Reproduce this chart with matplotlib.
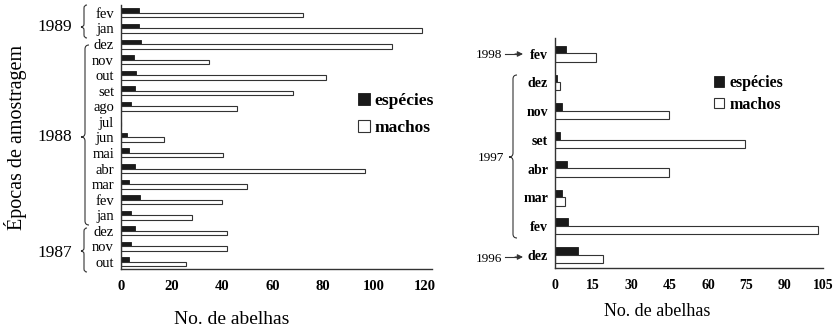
import matplotlib
matplotlib.use("Agg")
import matplotlib.pyplot as plt
from matplotlib.path import Path
from matplotlib.patches import PathPatch
import numpy as np

plt.rcParams['font.family'] = ['Liberation Serif', 'DejaVu Serif']

# left chart data (top to bottom)
left_months = ['fev', 'jan', 'dez', 'nov', 'out', 'set', 'ago', 'jul', 'jun',
               'mai', 'abr', 'mar', 'fev', 'jan', 'dez', 'nov', 'out']
left_especies = [7, 7, 8, 5, 6, 5.5, 4, 0, 2.5, 3, 5.5, 3, 7.5, 4, 5.5, 4, 3]
left_machos = [72, 119, 107, 35, 81, 68, 46, 0, 17, 40.5, 96.5, 50, 40, 28, 42, 42, 25.6]
left_ticks = [0, 20, 40, 60, 80, 100, 120]

# right chart data (top to bottom)
right_months = ['fev', 'dez', 'nov', 'set', 'abr', 'mar', 'fev', 'dez']
right_especies = [4.3, 0.8, 2.8, 2, 4.7, 2.8, 5, 9]
right_machos = [16, 2, 44.5, 74.4, 44.5, 3.9, 103, 19]
right_ticks = [0, 15, 30, 45, 60, 75, 90, 105]

W, H = 839, 332
fig = plt.figure(figsize=(W / 100, H / 100), dpi=100)


def fx(px):
    return px / W


def fy(py):
    return 1 - py / H


def brace(x, y0, y1, ym, d=4):
    verts = [(x + d, y0), (x, y0), (x, y0 + d), (x, ym - d),
             (x, ym), (x - d, ym), (x, ym), (x, ym + d),
             (x, y1 - d), (x, y1), (x + d, y1)]
    codes = [Path.MOVETO, Path.CURVE3, Path.CURVE3, Path.LINETO,
             Path.CURVE3, Path.CURVE3, Path.CURVE3, Path.CURVE3,
             Path.LINETO, Path.CURVE3, Path.CURVE3]
    verts = [(fx(a), fy(b)) for a, b in verts]
    p = PathPatch(Path(verts, codes), transform=fig.transFigure,
                  fill=False, lw=0.8, ec='#333333')
    fig.patches.append(p)


def style(ax):
    for s in ['top', 'right']:
        ax.spines[s].set_visible(False)
    for s in ['left', 'bottom']:
        ax.spines[s].set_color('#333333')
        ax.spines[s].set_linewidth(1.0)
    ax.tick_params(length=0)


# ---- left chart
axL = fig.add_axes([fx(121), fy(269), fx(432) - fx(121), fy(5) - fy(269)])
n = len(left_months)
pos = np.arange(n)
hb = 0.29
axL.barh(pos - hb / 2, left_especies, height=hb, color='#1a1a1a',
         edgecolor='#1a1a1a', lw=0.6, label='espécies')
axL.barh(pos + hb / 2, left_machos, height=hb, color='white',
         edgecolor='#333333', lw=0.8, label='machos')
axL.set_ylim(n - 1 + 0.46, -0.51)
axL.set_xlim(0, 123)
axL.set_yticks(pos)
axL.set_yticklabels(left_months, fontsize=10.5)
axL.set_xticks(left_ticks)
axL.set_xticklabels([str(t) for t in left_ticks], fontsize=10.5, fontweight='bold')
axL.tick_params(axis='y', pad=5)
axL.tick_params(axis='x', pad=8)
style(axL)
axL.legend(loc='upper left', bbox_to_anchor=(fx(358), fy(93)),
           bbox_transform=fig.transFigure, frameon=False,
           prop={'weight': 'bold', 'size': 12.5}, handlelength=0.7,
           handleheight=0.7, handletextpad=0.25, labelspacing=0.6,
           borderpad=0, borderaxespad=0)

fig.text(fx(16), fy(137), 'Épocas de amostragem', rotation=90,
         ha='center', va='center', fontsize=14.5)
fig.text(fx(232), fy(320), 'No. de abelhas', ha='center', va='center', fontsize=14)
fig.text(fx(55), fy(27), '1989', ha='center', va='center', fontsize=12.5)
fig.text(fx(55), fy(137), '1988', ha='center', va='center', fontsize=12.5)
fig.text(fx(55), fy(253), '1987', ha='center', va='center', fontsize=12.5)
brace(84, 5, 38, 27, d=3)
brace(85, 45, 225, 137, d=4)
brace(84, 228, 272, 251, d=3)

# ---- right chart
axR = fig.add_axes([fx(555), fy(268), fx(823) - fx(555), fy(38) - fy(268)])
m = len(right_months)
posr = np.arange(m)
hb2 = 0.27
axR.barh(posr - hb2 / 2, right_especies, height=hb2, color='#1a1a1a',
         edgecolor='#1a1a1a', lw=0.6, label='espécies')
axR.barh(posr + hb2 / 2, right_machos, height=hb2 + 0.02, color='white',
         edgecolor='#333333', lw=0.8, label='machos')
axR.set_ylim(m - 1 + 0.45, -0.54)
axR.set_xlim(0, 105)
axR.set_yticks(posr)
axR.set_yticklabels(right_months, fontsize=10, fontweight='bold')
axR.set_xticks(right_ticks)
axR.set_xticklabels([str(t) for t in right_ticks], fontsize=10, fontweight='bold')
axR.tick_params(axis='y', pad=5)
axR.tick_params(axis='x', pad=8)
style(axR)
axR.legend(loc='upper left', bbox_to_anchor=(fx(714), fy(75)),
           bbox_transform=fig.transFigure, frameon=False,
           prop={'weight': 'bold', 'size': 11.5}, handlelength=0.65,
           handleheight=0.65, handletextpad=0.3, labelspacing=0.35,
           borderpad=0, borderaxespad=0)

fig.text(fx(657), fy(311), 'No. de abelhas', ha='center', va='center', fontsize=13)
fig.text(fx(489), fy(55), '1998', ha='center', va='center', fontsize=9.5)
fig.text(fx(491), fy(158), '1997', ha='center', va='center', fontsize=9.5)
fig.text(fx(489), fy(259), '1996', ha='center', va='center', fontsize=9.5)
for yy in [54, 257]:
    fig.add_artist(plt.Line2D([fx(505), fx(519)], [fy(yy), fy(yy)],
                              transform=fig.transFigure, lw=0.8, color='#333333'))
    axR.annotate('', xy=(fx(523), fy(yy)), xytext=(fx(515), fy(yy)),
                 xycoords='figure fraction', textcoords='figure fraction',
                 arrowprops=dict(arrowstyle='-|>', color='#333333', lw=0.8,
                                 mutation_scale=8, shrinkA=0, shrinkB=0),
                 annotation_clip=False)
brace(513, 75, 238, 157, d=4)

fig.savefig('out.png', dpi=100)
